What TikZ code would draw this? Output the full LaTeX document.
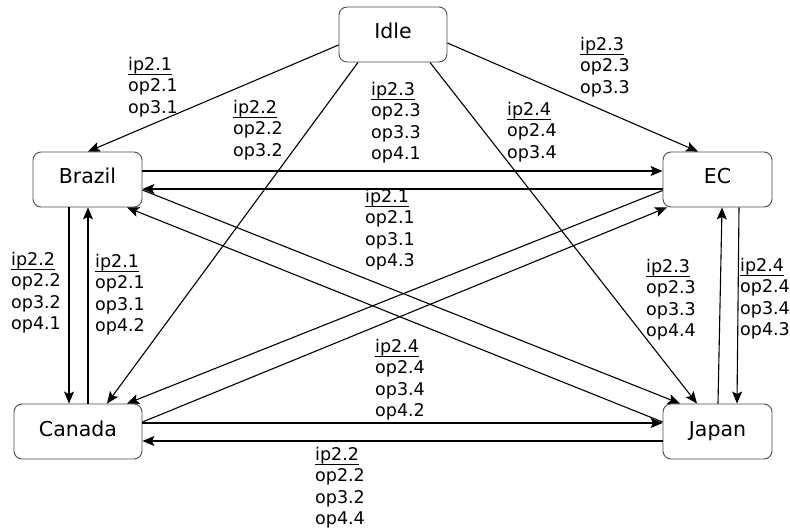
\documentclass[tikz,border=0pt]{standalone}
\usepackage{fontspec}
\setmainfont{DejaVu Sans}
\usetikzlibrary{arrows.meta}
% underline set just under the descenders
\newcommand\ipline[1]{\setbox0\hbox{#1}\rlap{\rule[-4.6pt]{\wd0}{1pt}}\box0}
\begin{document}
\begin{tikzpicture}[x=1pt,y=1pt,
  state/.style={draw=black!70, fill=white, rounded corners=8pt, line width=0.9pt,
    minimum width=109pt, minimum height=55pt, inner sep=0pt,
    font=\fontsize{20.5}{24}\selectfont, text height=15pt, text depth=6pt},
  flow/.style={-{Stealth[length=12pt,width=10pt,inset=2.5pt]}, line width=1.1pt},
  lbl/.style={anchor=north west, inner sep=0pt, align=left,
    font=\fontsize{17.5}{21.5}\selectfont}]
\useasboundingbox (0,0) rectangle (790,-529);

% states
\node[state, minimum width=108pt] (idle)   at (393,-34.5)  {Idle};
\node[state]                      (brazil) at (87.5,-179.5) {Brazil};
\node[state]                      (ec)     at (717.5,-179.5) {EC};
\node[state, minimum width=128pt] (canada) at (78,-431.5)  {Canada};
\node[state]                      (japan)  at (717.5,-431.5) {Japan};

% transitions out of Idle
\draw[flow] ([yshift=-10.5pt]idle.west) -- ([xshift=0.5pt]brazil.north);
\draw[flow] ([xshift=-35pt]idle.south) -- ([xshift=29pt]canada.north);
\draw[flow] ([yshift=-8.5pt]idle.east) -- ([xshift=-19.5pt]ec.north);
\draw[flow] ([xshift=37pt]idle.south) -- ([xshift=-20.5pt]japan.north);

% Brazil <-> EC
\draw[flow] ([yshift=8.5pt]brazil.east) -- ([yshift=8.5pt]ec.west);
\draw[flow] ([yshift=-9.5pt]ec.west) -- ([yshift=-9.5pt]brazil.east);

% Brazil <-> Japan
\draw[flow] ([yshift=-10.5pt]brazil.east) -- ([xshift=-37.5pt]japan.north);
\draw[flow] ([yshift=9.5pt]japan.west) -- ([xshift=39.5pt]brazil.south);

% EC <-> Canada
\draw[flow] ([yshift=-11pt]ec.west) -- ([xshift=49pt]canada.north);
\draw[flow] ([yshift=9.5pt]canada.east) -- ([xshift=-50.5pt]ec.south);

% Canada <-> Japan
\draw[flow] ([yshift=8.5pt]canada.east) -- ([yshift=8.5pt]japan.west);
\draw[flow] ([yshift=-9.5pt]japan.west) -- ([yshift=-9.5pt]canada.east);

% Brazil <-> Canada
\draw[flow] ([xshift=-18.5pt]brazil.south) -- ([xshift=-9pt]canada.north);
\draw[flow] ([xshift=10pt]canada.north) -- ([xshift=0.5pt]brazil.south);

% EC <-> Japan
\draw[flow] ([xshift=0.5pt]japan.north) -- ([xshift=4.5pt]ec.south);
\draw[flow] ([xshift=21.5pt]ec.south) -- ([xshift=19.5pt]japan.north);

% transition labels
\node[lbl] (l1)  at (128,-57)  {\ipline{ip2.1}\\op2.1\\op3.1};
\node[lbl] (l2)  at (233,-100) {\ipline{ip2.2}\\op2.2\\op3.2};
\node[lbl] (l3)  at (371,-82)  {\ipline{ip2.3}\\op2.3\\op3.3\\op4.1};
\node[lbl] (l4)  at (507,-102) {\ipline{ip2.4}\\op2.4\\op3.4};
\node[lbl] (l5)  at (580,-37)  {\ipline{ip2.3}\\op2.3\\op3.3};
\node[lbl] (l6)  at (365,-189) {\ipline{ip2.1}\\op2.1\\op3.1\\op4.3};
\node[lbl] (l7)  at (11,-252)  {\ipline{ip2.2}\\op2.2\\op3.2\\op4.1};
\node[lbl] (l8)  at (95,-254)  {\ipline{ip2.1}\\op2.1\\op3.1\\op4.2};
\node[lbl] (l9)  at (646,-259) {\ipline{ip2.3}\\op2.3\\op3.3\\op4.4};
\node[lbl] (l10) at (740,-258) {\ipline{ip2.4}\\op2.4\\op3.4\\op4.3};
\node[lbl] (l11) at (375,-339) {\ipline{ip2.4}\\op2.4\\op3.4\\op4.2};
\node[lbl] (l12) at (315,-447) {\ipline{ip2.2}\\op2.2\\op3.2\\op4.4};
\end{tikzpicture}
\end{document}
